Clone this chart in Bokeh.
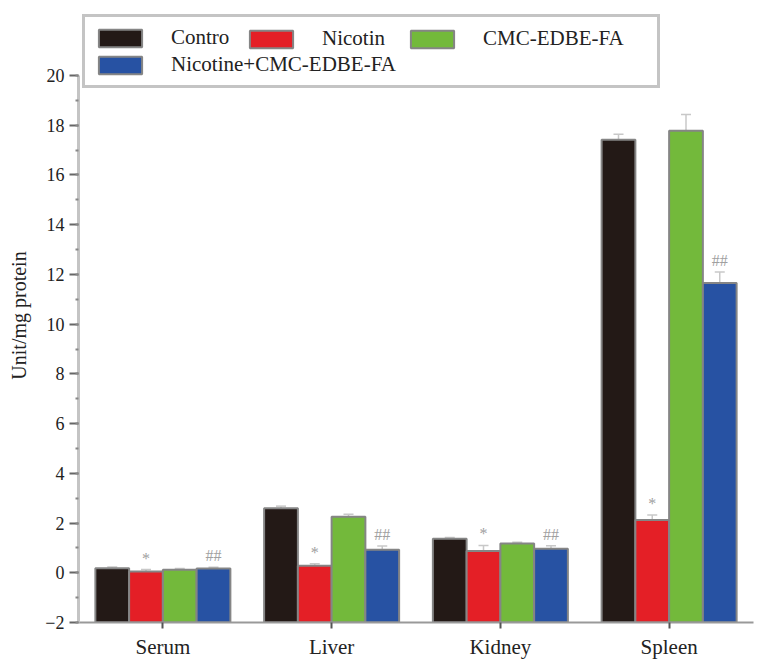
from bokeh.plotting import figure
from bokeh.models import (ColumnDataSource, FactorRange, Legend, LegendItem, Whisker,
                          FixedTicker, Range1d, TeeHead)
from bokeh.transform import dodge
from bokeh.core.properties import value
from bokeh.embed import file_html
from bokeh.resources import INLINE

# ---- data ----
categories = ["Serum", "Liver", "Kidney", "Spleen"]
series_names = ["Contro", "Nicotin", "CMC-EDBE-FA", "Nicotine+CMC-EDBE-FA"]
control = [0.18, 2.60, 1.37, 17.42]
nicotin = [0.05, 0.28, 0.88, 2.12]
cmc = [0.12, 2.25, 1.18, 17.78]
combo = [0.17, 0.93, 0.97, 11.65]
control_err = [0.05, 0.08, 0.05, 0.22]
nicotin_err = [0.08, 0.08, 0.22, 0.20]
cmc_err = [0.05, 0.10, 0.05, 0.65]
combo_err = [0.05, 0.15, 0.12, 0.45]
nicotin_mark = ["*", "*", "*", "*"]
combo_mark = ["##", "##", "##", "##"]
y_ticks = [-2, 0, 2, 4, 6, 8, 10, 12, 14, 16, 18, 20]
y_minor = list(range(-2, 21))
colors = ["#231916", "#e41f26", "#73b93b", "#2752a3"]

values = [control, nicotin, cmc, combo]
errors = [control_err, nicotin_err, cmc_err, combo_err]
marks = [None, nicotin_mark, None, combo_mark]
offsets = [-0.3, -0.1, 0.1, 0.3]

FONT = "Liberation Serif"

# axis spans -2..20 over 547 px; frame extends 67 px higher to host the legend
y_lo, y_hi = y_ticks[0], y_ticks[-1]
px_per_unit = 547 / (y_hi - y_lo)
y_top = y_hi + 67 / px_per_unit

p = figure(x_range=FactorRange(*categories), y_range=Range1d(y_lo, y_top),
           width=763, height=668, output_backend="svg", toolbar_location=None,
           min_border_left=78, min_border_right=10, min_border_top=8, min_border_bottom=46)

renderers = []
for i in range(4):
    vals = values[i]
    errs = errors[i]
    data = dict(cat=categories, top=vals,
                upper=[v + e for v, e in zip(vals, errs)],
                lower=vals)
    if marks[i] is not None:
        data["mark"] = marks[i]
        data["mark_y"] = [v + e + 0.12 for v, e in zip(vals, errs)]
    src = ColumnDataSource(data)
    xd = dodge("cat", offsets[i], range=p.x_range)
    r = p.vbar(x=xd, top="top", bottom=y_lo, width=0.2, source=src,
               fill_color=colors[i], line_color="#858585", line_width=2)
    renderers.append(r)
    w = Whisker(base=dodge("cat", offsets[i], range=p.x_range), upper="upper", lower="lower",
                source=src, line_color="#c8c8c8", line_width=1.5,
                upper_head=TeeHead(size=10, line_color="#c8c8c8", line_width=1.5),
                lower_head=None)
    p.add_layout(w)
    if marks[i] is not None:
        p.text(x=dodge("cat", offsets[i], range=p.x_range), y="mark_y", text="mark", source=src,
               text_font=value(FONT), text_font_size="16px", text_color="#a0a0a0",
               text_align="center", text_baseline="bottom")

# ---- axes ----
p.xgrid.visible = False
p.ygrid.visible = False
p.outline_line_color = None

yax = p.yaxis[0]
yax.bounds = (y_lo, y_hi)
yax.ticker = FixedTicker(ticks=y_ticks, minor_ticks=y_minor)
yax.axis_line_color = "#c4c4c4"
yax.axis_line_width = 3
yax.major_tick_line_color = "#666666"
yax.major_tick_line_width = 2
yax.major_tick_out = 9
yax.major_tick_in = 0
yax.minor_tick_line_color = "#888888"
yax.minor_tick_line_width = 2
yax.minor_tick_out = 3
yax.minor_tick_in = 0
yax.major_label_text_font = FONT
yax.major_label_text_font_size = "18px"
yax.major_label_text_color = "#222222"
yax.major_label_standoff = 5
yax.axis_label = "Unit/mg protein"
yax.axis_label_text_font = FONT
yax.axis_label_text_font_style = "normal"
yax.axis_label_text_font_size = "20px"
yax.axis_label_text_color = "#222222"
yax.axis_label_standoff = 12

xax = p.xaxis[0]
xax.axis_line_color = "#999999"
xax.axis_line_width = 2
xax.major_tick_line_color = "#555555"
xax.major_tick_line_width = 2
xax.major_tick_out = 6
xax.major_tick_in = 0
xax.minor_tick_line_color = None
xax.major_label_text_font = FONT
xax.major_label_text_font_size = "21px"
xax.major_label_text_color = "#222222"
xax.major_label_standoff = 6

# ---- legend ----
common = dict(glyph_width=54, glyph_height=22, label_standoff=24, label_height=24,
              label_text_font=FONT, label_text_font_size="21px", label_text_color="#222222",
              margin=0)
legend_a = Legend(items=[LegendItem(label=series_names[0], renderers=[renderers[0]]),
                         LegendItem(label=series_names[3], renderers=[renderers[3]])],
                  location=(4, 534), orientation="vertical", padding=8, spacing=2,
                  label_width=478, border_line_color="#8a8a8a", border_line_width=3,
                  background_fill_color="white", background_fill_alpha=1.0, **common)
legend_b = Legend(items=[LegendItem(label=series_names[1], renderers=[renderers[1]])],
                  location=(166, 571), padding=0, border_line_color=None,
                  background_fill_alpha=0, **common)
legend_c = Legend(items=[LegendItem(label=series_names[2], renderers=[renderers[2]])],
                  location=(327, 571), padding=0, border_line_color=None,
                  background_fill_alpha=0, **common)
p.add_layout(legend_a)
p.add_layout(legend_b)
p.add_layout(legend_c)

open("out.html", "w").write(file_html(p, INLINE))
